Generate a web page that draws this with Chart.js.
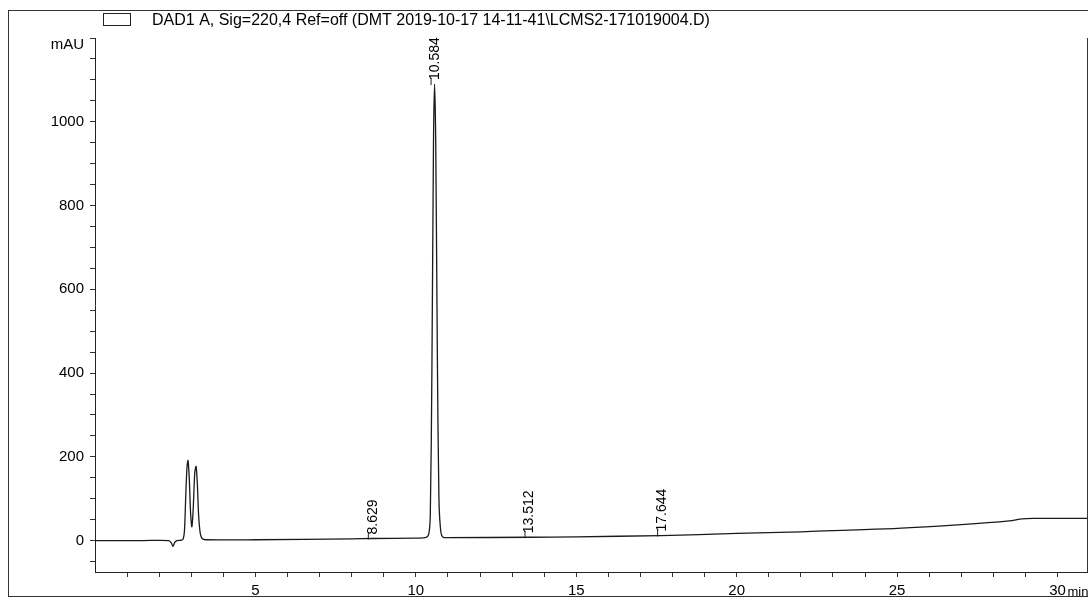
<!DOCTYPE html>
<html>
<head>
<meta charset="utf-8">
<script src="https://cdn.jsdelivr.net/npm/chart.js@4/dist/chart.umd.min.js"></script>
<style>
  body { margin: 0; background: #fff; }
  canvas { display: block; }
</style>
</head>
<body>
<canvas id="chrom" width="1088" height="601"></canvas>
<script>
// signal title
var traceLabel = 'DAD1 A, Sig=220,4 Ref=off (DMT 2019-10-17 14-11-41\\LCMS2-171019004.D)';

// retention time (min) and absorbance (mAU)
var times = [0, 1.5, 2.3, 2.38, 2.43, 2.48, 2.55, 2.7, 2.75, 2.79, 2.83, 2.87, 2.9, 2.94, 2.98, 3.02,
  3.06, 3.11, 3.15, 3.19, 3.23, 3.28, 3.34, 3.45, 5, 8, 8.629, 10, 10.3, 10.4, 10.45, 10.5, 10.55,
  10.584, 10.62, 10.67, 10.72, 10.78, 10.85, 11, 13.512, 15, 17.644, 20, 22, 23, 25, 27, 28.5,
  28.9, 29.3, 30, 31];
var mAU = [0, 0, 0, -6, -14, -5, 0, 1, 4, 25, 110, 178, 191, 145, 65, 33,
  75, 162, 177, 135, 60, 18, 5, 2, 2, 4, 5, 6, 7, 15, 60, 400, 950,
  1090, 950, 450, 100, 20, 8, 7, 8, 9, 12, 17, 21, 24, 29, 38, 47,
  52, 53, 53, 53];

// integrated peaks
var peakTimes = [8.629, 10.584, 13.512, 17.644];
var peakLabels = ['8.629', '10.584', '13.512', '17.644'];

// axis ticks
var xLabelTicks = [5, 10, 15, 20, 25, 30];
var yLabelTicks = [0, 200, 400, 600, 800, 1000];

var font = 'Liberation Sans, Arial, sans-serif';

function valueAt(t) {
  for (var i = 1; i < times.length; i++) {
    if (t <= times[i]) {
      var f = (t - times[i - 1]) / (times[i] - times[i - 1]);
      return mAU[i - 1] + f * (mAU[i] - mAU[i - 1]);
    }
  }
  return mAU[mAU.length - 1];
}

var decor = {
  id: 'decor',
  afterDraw: function (chart) {
    var c = chart.ctx, xs = chart.scales.x, ys = chart.scales.y, area = chart.chartArea;
    c.save();
    // outer frame
    c.strokeStyle = '#333';
    c.lineWidth = 1;
    c.strokeRect(8.5, 10.5, 1100, 586);
    // right border of plot
    c.beginPath();
    c.moveTo(area.right - 0.5, area.top);
    c.lineTo(area.right - 0.5, area.bottom);
    c.stroke();
    // legend box + title
    c.fillStyle = '#fff';
    c.strokeStyle = '#222';
    c.fillRect(103, 13, 27, 12);
    c.strokeRect(103.5, 13.5, 27, 12);
    c.fillStyle = '#000';
    c.font = '16px ' + font;
    c.textBaseline = 'middle';
    c.textAlign = 'left';
    c.fillText(traceLabel, 152, 21);
    // mAU unit next to top tick
    c.font = '15px ' + font;
    c.textAlign = 'right';
    c.fillText('mAU', 84, 45);
    // unit after last x label
    c.textAlign = 'left';
    c.textBaseline = 'alphabetic';
    c.font = '13px ' + font;
    c.fillText('min', xs.getPixelForValue(30) + 10, 596);
    // peak labels
    c.font = '14px ' + font;
    c.textBaseline = 'middle';
    c.strokeStyle = '#222';
    for (var i = 0; i < peakTimes.length; i++) {
      var px = xs.getPixelForValue(peakTimes[i]);
      var py = ys.getPixelForValue(valueAt(peakTimes[i]));
      c.beginPath();
      c.moveTo(px - 3.5, py + 1);
      c.lineTo(px - 3.5, py - 6);
      c.stroke();
      c.save();
      c.translate(px + 1, py - 4);
      c.rotate(-Math.PI / 2);
      c.textAlign = 'left';
      c.fillText(peakLabels[i], 0, 0);
      c.restore();
    }
    c.restore();
  }
};

new Chart(document.getElementById('chrom').getContext('2d'), {
  type: 'line',
  data: {
    datasets: [{
      label: traceLabel,
      data: times.map(function (t, i) { return { x: t, y: mAU[i] }; }),
      borderColor: '#1a1a1a',
      borderWidth: 1.3,
      pointRadius: 0,
      tension: 0.3,
      fill: false
    }]
  },
  plugins: [decor],
  options: {
    responsive: false,
    animation: false,
    layout: { padding: { top: 38, left: 0, right: 0, bottom: 0 } },
    plugins: { legend: { display: false }, tooltip: { enabled: false } },
    scales: {
      x: {
        type: 'linear',
        min: 0,
        max: 30.95,
        afterBuildTicks: function (s) {
          var t = [];
          for (var v = 1; v <= 30; v++) t.push({ value: v });
          s.ticks = t;
        },
        afterFit: function (s) { s.height = 29; },
        border: { display: true, color: '#222', width: 1 },
        grid: { drawOnChartArea: false, drawTicks: true, tickLength: 5, color: '#333' },
        ticks: {
          autoSkip: false,
          maxRotation: 0,
          padding: 5,
          color: '#000',
          font: { family: font, size: 15 },
          callback: function (v) { return xLabelTicks.indexOf(v) >= 0 ? String(v) : ''; }
        }
      },
      y: {
        min: -75,
        max: 1200,
        afterBuildTicks: function (s) {
          var t = [];
          for (var v = -50; v <= 1200; v += 50) t.push({ value: v });
          s.ticks = t;
        },
        afterFit: function (s) { s.width = 95; },
        border: { display: true, color: '#222', width: 1 },
        grid: { drawOnChartArea: false, drawTicks: true, tickLength: 5, color: '#333' },
        ticks: {
          autoSkip: false,
          padding: 6,
          color: '#000',
          font: { family: font, size: 15 },
          callback: function (v) { return yLabelTicks.indexOf(v) >= 0 ? String(v) : ''; }
        }
      }
    }
  }
});
</script>
</body>
</html>
